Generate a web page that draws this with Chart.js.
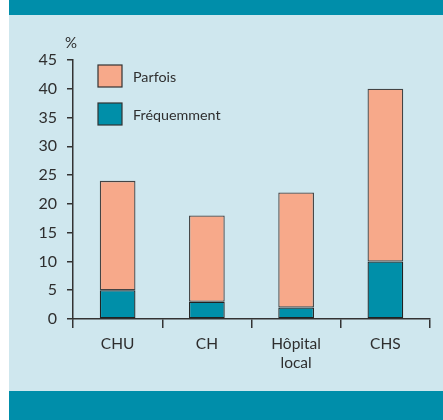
<!DOCTYPE html>
<html><head><meta charset="utf-8">
<script src="https://cdn.jsdelivr.net/npm/chart.js@4"></script>
<style>
html,body{margin:0;padding:0;background:#fff;}
#wrap{position:relative;width:443px;height:420px;overflow:hidden;}
#top{position:absolute;left:9px;top:0;width:434px;height:15px;background:#008eaa;}
#mid{position:absolute;left:9px;top:15px;width:434px;height:376px;background:#cfe7ee;}
#bot{position:absolute;left:9px;top:391px;width:434px;height:29px;background:#008eaa;}
#c{position:absolute;left:0;top:0;}
</style></head>
<body><div id="wrap"><div id="top"></div><div id="mid"></div><div id="bot"></div>
<canvas id="c" width="443" height="420"></canvas></div>
<script>
const categories = ['CHU', 'CH', ['Hôpital', 'local'], 'CHS'];
const frequemment = [5, 3, 2, 10];
const parfois = [19, 15, 20, 30];
const seriesNames = ['Fréquemment', 'Parfois'];
const yUnit = '%';

const FONT = 'Lato, "Noto Sans", sans-serif';
const TXT = '#2e2e2e';

const legendPlugin = {
  id: 'customLegend',
  afterDraw(chart) {
    const ctx = chart.ctx;
    const ds = chart.data.datasets;
    const order = [1, 0];
    ctx.save();
    order.forEach((i, k) => {
      const y = 65 + k * 38;
      ctx.fillStyle = ds[i].backgroundColor;
      ctx.fillRect(98, y, 24, 22);
      ctx.strokeStyle = '#333';
      ctx.lineWidth = 1.2;
      ctx.strokeRect(98, y, 24, 22);
      ctx.fillStyle = TXT;
      ctx.font = '14.3px ' + FONT;
      ctx.textBaseline = 'middle';
      ctx.textAlign = 'left';
      ctx.fillText(ds[i].label, 133, y + 12);
    });
    ctx.font = '15px ' + FONT;
    ctx.textAlign = 'center';
    ctx.textBaseline = 'middle';
    ctx.fillText(yUnit, chart.chartArea.left - 2, 43);
    ctx.restore();
  }
};

new Chart(document.getElementById('c'), {
  type: 'bar',
  data: {
    labels: categories,
    datasets: [
      { label: seriesNames[0], data: frequemment, backgroundColor: '#008fa9', borderColor: '#222', borderWidth: 1.3, borderSkipped: false, barPercentage: 0.4, categoryPercentage: 1 },
      { label: seriesNames[1], data: parfois, backgroundColor: '#f7a98a', borderColor: '#444', borderWidth: 1.3, borderSkipped: false, barPercentage: 0.4, categoryPercentage: 1 }
    ]
  },
  options: {
    responsive: false,
    animation: false,
    layout: { padding: { top: 60, right: 13, left: 0, bottom: 0 } },
    plugins: { legend: { display: false }, tooltip: { enabled: false } },
    scales: {
      x: {
        stacked: true,
        afterFit(s) { s.height = 101; },
        grid: { drawOnChartArea: false, tickLength: 9, color: '#333', lineWidth: 1.5, offset: true },
        border: { color: '#333', width: 1.5 },
        ticks: { color: TXT, font: { family: FONT, size: 15.5, lineHeight: 1.26 }, padding: 6, maxRotation: 0 }
      },
      y: {
        stacked: true,
        min: 0, max: 45,
        afterFit(s) { s.width = 73; },
        grid: { drawOnChartArea: false, tickLength: 6, color: '#333', lineWidth: 1.5 },
        border: { color: '#333', width: 1.5 },
        ticks: { stepSize: 5, color: TXT, font: { family: FONT, size: 16 }, padding: 10 }
      }
    }
  },
  plugins: [legendPlugin]
});
</script>
</body></html>
